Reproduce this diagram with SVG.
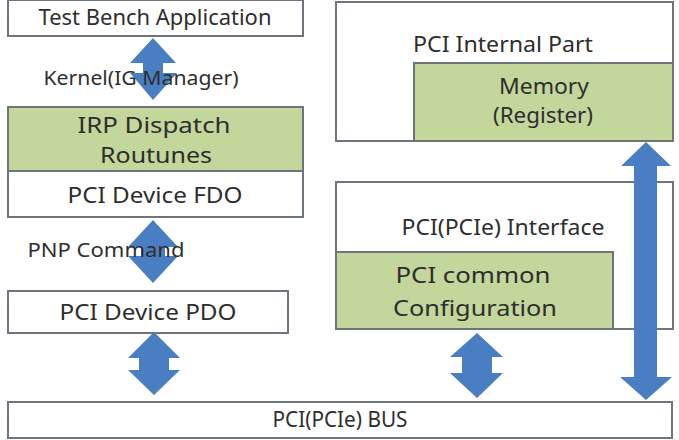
<svg xmlns="http://www.w3.org/2000/svg" width="679" height="440" viewBox="0 0 679 440">
<style>
.box{fill:#ffffff;stroke:#6e747c;stroke-width:2}
.green{fill:#c3d69b;stroke:#6e747c;stroke-width:2}
.t{font-family:"Noto Sans","Liberation Sans",sans-serif;font-size:21px;fill:#2e2e2e;text-anchor:middle}
.s{font-size:20px}
.arrow{fill:#4a7ec3}
</style>
<rect width="679" height="440" fill="#ffffff"/>
<g id="test-bench">
<rect class="box" x="8" y="0" width="295" height="36"/>
<text class="t" x="155" y="25" textLength="233" lengthAdjust="spacingAndGlyphs">Test Bench Application</text>
</g>
<g id="irp-dispatch">
<rect class="green" x="8" y="107" width="295" height="64"/>
<text class="t" x="154" y="133" textLength="153" lengthAdjust="spacingAndGlyphs">IRP Dispatch</text>
<text class="t" x="156" y="163" textLength="112" lengthAdjust="spacingAndGlyphs">Routunes</text>
</g>
<g id="fdo">
<rect class="box" x="8" y="171" width="295" height="46"/>
<text class="t" x="155" y="203" textLength="175" lengthAdjust="spacingAndGlyphs">PCI Device FDO</text>
</g>
<g id="pdo">
<rect class="box" x="8" y="291" width="280" height="42"/>
<text class="t" x="148" y="320" textLength="177" lengthAdjust="spacingAndGlyphs">PCI Device PDO</text>
</g>
<g id="internal-part">
<rect class="box" x="336" y="2" width="337" height="139"/>
<text class="t" x="503" y="52" textLength="180" lengthAdjust="spacingAndGlyphs">PCI Internal  Part</text>
</g>
<g id="memory">
<rect class="green" x="414" y="63" width="259" height="78"/>
<text class="t" x="544" y="94" textLength="90" lengthAdjust="spacingAndGlyphs">Memory</text>
<text class="t" x="543" y="123" textLength="100" lengthAdjust="spacingAndGlyphs">(Register)</text>
</g>
<g id="interface">
<rect class="box" x="336" y="182" width="337" height="147"/>
<text class="t" x="503" y="235" textLength="203" lengthAdjust="spacingAndGlyphs">PCI(PCIe) Interface</text>
</g>
<g id="common-config">
<rect class="green" x="336" y="252" width="277" height="77"/>
<text class="t" x="473" y="283" textLength="155" lengthAdjust="spacingAndGlyphs">PCI common</text>
<text class="t" x="475" y="316" textLength="164" lengthAdjust="spacingAndGlyphs">Configuration</text>
</g>
<g id="bus">
<rect class="box" x="8" y="402" width="664" height="36"/>
<text class="t" x="340" y="427" textLength="135" lengthAdjust="spacingAndGlyphs">PCI(PCIe) BUS</text>
</g>
<g id="connectors">
<polygon class="arrow" points="153,38 176,63 163,63 163,73 177,73 153,100 130,73 143,73 143,63 130,63"/>
<polygon class="arrow" points="153,220 178,247 165,247 165,256 178,256 153,283 128,256 141,256 141,247 128,247"/>
<polygon class="arrow" points="154,332 180,358 169,358 169,370 180,370 154,395 128,370 139,370 139,358 128,358"/>
<polygon class="arrow" points="477,333 503,357 492,357 492,373 503,373 477,398 450,373 462,373 462,357 450,357"/>
<polygon class="arrow" points="646,142 671,166 657,166 657,377 672,377 646,400 620,377 634,377 634,166 621,166"/>
</g>
<g id="labels">
<text class="t s" x="141" y="85" textLength="195" lengthAdjust="spacingAndGlyphs">Kernel(IG Manager)</text>
<text class="t s" x="106" y="257" textLength="157" lengthAdjust="spacingAndGlyphs">PNP Command</text>
</g>
</svg>
